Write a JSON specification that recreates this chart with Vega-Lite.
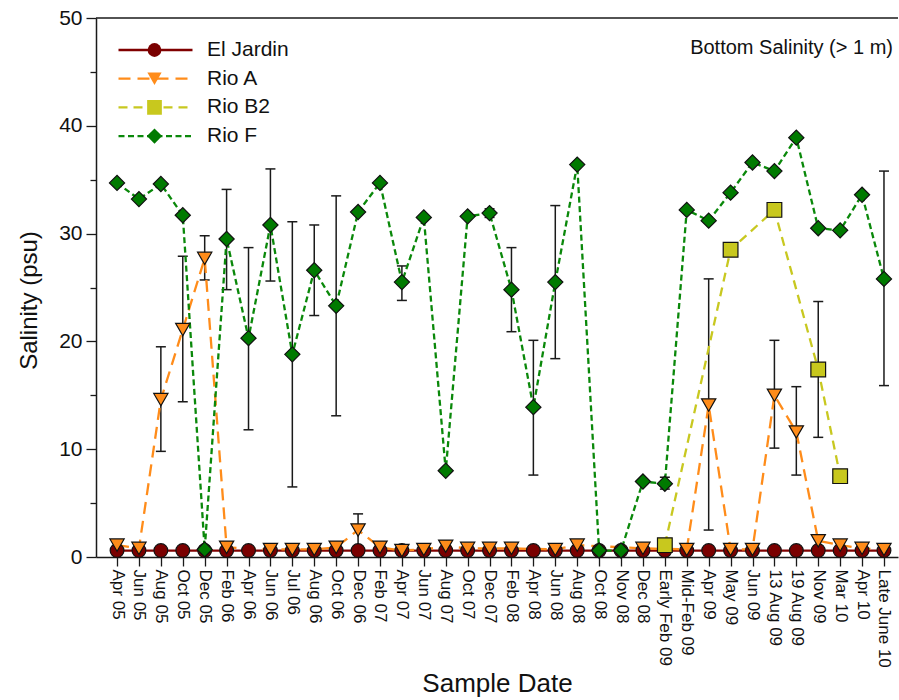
{
  "$schema": "https://vega.github.io/schema/vega-lite/v6.json",
  "width": 802,
  "height": 539,
  "autosize": {"type": "none"},
  "padding": {"left": 96, "top": 18, "right": 1, "bottom": 143},
  "background": "white",
  "config": {
    "view": {"stroke": null},
    "font": "Liberation Sans",
    "axis": {"grid": false, "domainColor": "#1a1a1a", "tickColor": "#1a1a1a", "labelColor": "#111", "titleColor": "#111", "labelFont": "Liberation Sans", "titleFont": "Liberation Sans", "titleFontWeight": "normal", "domainWidth": 1.5, "tickWidth": 1.3},
    "legend": {"labelFont": "Liberation Sans", "labelColor": "#111"}
  },
  "title": {"text": "Bottom Salinity (> 1 m)", "anchor": "end", "orient": "top", "offset": -51, "fontSize": 20, "fontWeight": "normal", "font": "Liberation Sans", "color": "#111", "frame": "group", "dx": -5},
  "resolve": {"axis": {"y": "independent"}},
  "datasets": {
    "obs": [
      {"date": "Apr 05", "site": "El Jardin", "sal": 0.6}, {"date": "Jun 05", "site": "El Jardin", "sal": 0.6}, {"date": "Aug 05", "site": "El Jardin", "sal": 0.6}, {"date": "Oct 05", "site": "El Jardin", "sal": 0.6}, {"date": "Dec 05", "site": "El Jardin", "sal": 0.6}, {"date": "Feb 06", "site": "El Jardin", "sal": 0.6}, {"date": "Apr 06", "site": "El Jardin", "sal": 0.6}, {"date": "Jun 06", "site": "El Jardin", "sal": 0.6}, {"date": "Jul 06", "site": "El Jardin", "sal": 0.6}, {"date": "Aug 06", "site": "El Jardin", "sal": 0.6}, {"date": "Oct 06", "site": "El Jardin", "sal": 0.6}, {"date": "Dec 06", "site": "El Jardin", "sal": 0.6}, {"date": "Feb 07", "site": "El Jardin", "sal": 0.6}, {"date": "Apr 07", "site": "El Jardin", "sal": 0.6}, {"date": "Jun 07", "site": "El Jardin", "sal": 0.6}, {"date": "Aug 07", "site": "El Jardin", "sal": 0.6}, {"date": "Oct 07", "site": "El Jardin", "sal": 0.6}, {"date": "Dec 07", "site": "El Jardin", "sal": 0.6}, {"date": "Feb 08", "site": "El Jardin", "sal": 0.6}, {"date": "Apr 08", "site": "El Jardin", "sal": 0.6}, {"date": "Jun 08", "site": "El Jardin", "sal": 0.6}, {"date": "Aug 08", "site": "El Jardin", "sal": 0.6}, {"date": "Oct 08", "site": "El Jardin", "sal": 0.6}, {"date": "Nov 08", "site": "El Jardin", "sal": 0.6}, {"date": "Dec 08", "site": "El Jardin", "sal": 0.6}, {"date": "Early Feb 09", "site": "El Jardin", "sal": 0.6}, {"date": "Mid-Feb 09", "site": "El Jardin", "sal": 0.6}, {"date": "Apr 09", "site": "El Jardin", "sal": 0.6}, {"date": "May 09", "site": "El Jardin", "sal": 0.6}, {"date": "Jun 09", "site": "El Jardin", "sal": 0.6}, {"date": "13 Aug 09", "site": "El Jardin", "sal": 0.6}, {"date": "19 Aug 09", "site": "El Jardin", "sal": 0.6}, {"date": "Nov 09", "site": "El Jardin", "sal": 0.6}, {"date": "Mar 10", "site": "El Jardin", "sal": 0.6}, {"date": "Apr 10", "site": "El Jardin", "sal": 0.6}, {"date": "Late June 10", "site": "El Jardin", "sal": 0.6},
      {"date": "Apr 05", "site": "Rio A", "sal": 1.1}, {"date": "Jun 05", "site": "Rio A", "sal": 0.8}, {"date": "Aug 05", "site": "Rio A", "sal": 14.6}, {"date": "Oct 05", "site": "Rio A", "sal": 21.1}, {"date": "Dec 05", "site": "Rio A", "sal": 27.7}, {"date": "Feb 06", "site": "Rio A", "sal": 0.9}, {"date": "Jun 06", "site": "Rio A", "sal": 0.7}, {"date": "Jul 06", "site": "Rio A", "sal": 0.7}, {"date": "Aug 06", "site": "Rio A", "sal": 0.7}, {"date": "Oct 06", "site": "Rio A", "sal": 0.9}, {"date": "Dec 06", "site": "Rio A", "sal": 2.5}, {"date": "Feb 07", "site": "Rio A", "sal": 0.9}, {"date": "Apr 07", "site": "Rio A", "sal": 0.6}, {"date": "Jun 07", "site": "Rio A", "sal": 0.7}, {"date": "Aug 07", "site": "Rio A", "sal": 1.0}, {"date": "Oct 07", "site": "Rio A", "sal": 0.8}, {"date": "Dec 07", "site": "Rio A", "sal": 0.8}, {"date": "Feb 08", "site": "Rio A", "sal": 0.8}, {"date": "Jun 08", "site": "Rio A", "sal": 0.7}, {"date": "Aug 08", "site": "Rio A", "sal": 1.1}, {"date": "Dec 08", "site": "Rio A", "sal": 0.8}, {"date": "Mid-Feb 09", "site": "Rio A", "sal": 0.7}, {"date": "Apr 09", "site": "Rio A", "sal": 14.1}, {"date": "May 09", "site": "Rio A", "sal": 0.7}, {"date": "Jun 09", "site": "Rio A", "sal": 0.7}, {"date": "13 Aug 09", "site": "Rio A", "sal": 15.0}, {"date": "19 Aug 09", "site": "Rio A", "sal": 11.6}, {"date": "Nov 09", "site": "Rio A", "sal": 1.5}, {"date": "Mar 10", "site": "Rio A", "sal": 1.1}, {"date": "Apr 10", "site": "Rio A", "sal": 0.8}, {"date": "Late June 10", "site": "Rio A", "sal": 0.7},
      {"date": "Early Feb 09", "site": "Rio B2", "sal": 1.1}, {"date": "May 09", "site": "Rio B2", "sal": 28.5}, {"date": "13 Aug 09", "site": "Rio B2", "sal": 32.2}, {"date": "Nov 09", "site": "Rio B2", "sal": 17.4}, {"date": "Mar 10", "site": "Rio B2", "sal": 7.5},
      {"date": "Apr 05", "site": "Rio F", "sal": 34.7}, {"date": "Jun 05", "site": "Rio F", "sal": 33.2}, {"date": "Aug 05", "site": "Rio F", "sal": 34.6}, {"date": "Oct 05", "site": "Rio F", "sal": 31.7}, {"date": "Dec 05", "site": "Rio F", "sal": 0.7}, {"date": "Feb 06", "site": "Rio F", "sal": 29.5}, {"date": "Apr 06", "site": "Rio F", "sal": 20.3}, {"date": "Jun 06", "site": "Rio F", "sal": 30.8}, {"date": "Jul 06", "site": "Rio F", "sal": 18.8}, {"date": "Aug 06", "site": "Rio F", "sal": 26.6}, {"date": "Oct 06", "site": "Rio F", "sal": 23.3}, {"date": "Dec 06", "site": "Rio F", "sal": 32.0}, {"date": "Feb 07", "site": "Rio F", "sal": 34.7}, {"date": "Apr 07", "site": "Rio F", "sal": 25.5}, {"date": "Jun 07", "site": "Rio F", "sal": 31.5}, {"date": "Aug 07", "site": "Rio F", "sal": 8.0}, {"date": "Oct 07", "site": "Rio F", "sal": 31.6}, {"date": "Dec 07", "site": "Rio F", "sal": 31.9}, {"date": "Feb 08", "site": "Rio F", "sal": 24.8}, {"date": "Apr 08", "site": "Rio F", "sal": 13.9}, {"date": "Jun 08", "site": "Rio F", "sal": 25.5}, {"date": "Aug 08", "site": "Rio F", "sal": 36.4}, {"date": "Oct 08", "site": "Rio F", "sal": 0.6}, {"date": "Nov 08", "site": "Rio F", "sal": 0.6}, {"date": "Dec 08", "site": "Rio F", "sal": 7.0}, {"date": "Early Feb 09", "site": "Rio F", "sal": 6.8}, {"date": "Mid-Feb 09", "site": "Rio F", "sal": 32.2}, {"date": "Apr 09", "site": "Rio F", "sal": 31.2}, {"date": "May 09", "site": "Rio F", "sal": 33.8}, {"date": "Jun 09", "site": "Rio F", "sal": 36.6}, {"date": "13 Aug 09", "site": "Rio F", "sal": 35.8}, {"date": "19 Aug 09", "site": "Rio F", "sal": 38.9}, {"date": "Nov 09", "site": "Rio F", "sal": 30.5}, {"date": "Mar 10", "site": "Rio F", "sal": 30.3}, {"date": "Apr 10", "site": "Rio F", "sal": 33.6}, {"date": "Late June 10", "site": "Rio F", "sal": 25.8}
    ],
    "err": [
      {"date": "Aug 05", "site": "Rio A", "lo": 9.8, "hi": 19.5}, {"date": "Oct 05", "site": "Rio A", "lo": 14.4, "hi": 27.9}, {"date": "Dec 05", "site": "Rio A", "lo": 25.7, "hi": 29.8}, {"date": "Dec 06", "site": "Rio A", "lo": 1.0, "hi": 4.0}, {"date": "Apr 09", "site": "Rio A", "lo": 2.5, "hi": 25.8}, {"date": "13 Aug 09", "site": "Rio A", "lo": 10.1, "hi": 20.1}, {"date": "19 Aug 09", "site": "Rio A", "lo": 7.6, "hi": 15.8},
      {"date": "Nov 09", "site": "Rio B2", "lo": 11.1, "hi": 23.7},
      {"date": "Feb 06", "site": "Rio F", "lo": 24.8, "hi": 34.1}, {"date": "Apr 06", "site": "Rio F", "lo": 11.8, "hi": 28.7}, {"date": "Jun 06", "site": "Rio F", "lo": 25.6, "hi": 36.0}, {"date": "Jul 06", "site": "Rio F", "lo": 6.5, "hi": 31.1}, {"date": "Aug 06", "site": "Rio F", "lo": 22.4, "hi": 30.8}, {"date": "Oct 06", "site": "Rio F", "lo": 13.1, "hi": 33.5}, {"date": "Apr 07", "site": "Rio F", "lo": 23.8, "hi": 27.0}, {"date": "Dec 07", "site": "Rio F", "lo": 31.5, "hi": 32.3}, {"date": "Feb 08", "site": "Rio F", "lo": 20.9, "hi": 28.7}, {"date": "Apr 08", "site": "Rio F", "lo": 7.6, "hi": 20.1}, {"date": "Jun 08", "site": "Rio F", "lo": 18.4, "hi": 32.6}, {"date": "Early Feb 09", "site": "Rio F", "lo": 6.3, "hi": 7.4}, {"date": "Late June 10", "site": "Rio F", "lo": 15.9, "hi": 35.8}
    ]
  },
  "layer": [
    {
      "data": {"values": [{}]},
      "mark": {"type": "rule", "color": "#1a1a1a", "strokeWidth": 1.5},
      "encoding": {"y": {"datum": 50, "type": "quantitative", "axis": null}}
    },
    {
      "data": {"name": "err"},
      "mark": {"type": "rule", "color": "#1a1a1a", "strokeWidth": 1.5},
      "encoding": {
        "x": {"field": "date", "type": "ordinal"},
        "y": {"field": "lo", "type": "quantitative", "axis": {"orient": "left", "values": [5, 15, 25, 35, 45], "labels": false, "domain": false, "title": null, "tickSize": 6}},
        "y2": {"field": "hi"}
      }
    },
    {
      "data": {"name": "err"},
      "mark": {"type": "tick", "color": "#1a1a1a", "size": 10, "thickness": 1.5, "opacity": 1},
      "encoding": {
        "x": {"field": "date", "type": "ordinal"},
        "y": {"field": "lo", "type": "quantitative", "axis": null}
      }
    },
    {
      "data": {"name": "err"},
      "mark": {"type": "tick", "color": "#1a1a1a", "size": 10, "thickness": 1.5, "opacity": 1},
      "encoding": {
        "x": {"field": "date", "type": "ordinal"},
        "y": {"field": "hi", "type": "quantitative", "axis": null}
      }
    },
    {
      "data": {"name": "obs"},
      "mark": {"type": "line", "strokeWidth": 2.3},
      "encoding": {
        "x": {
          "field": "date", "type": "ordinal",
          "scale": {"type": "point", "padding": 0.8, "align": 0.6, "domain": ["Apr 05", "Jun 05", "Aug 05", "Oct 05", "Dec 05", "Feb 06", "Apr 06", "Jun 06", "Jul 06", "Aug 06", "Oct 06", "Dec 06", "Feb 07", "Apr 07", "Jun 07", "Aug 07", "Oct 07", "Dec 07", "Feb 08", "Apr 08", "Jun 08", "Aug 08", "Oct 08", "Nov 08", "Dec 08", "Early Feb 09", "Mid-Feb 09", "Apr 09", "May 09", "Jun 09", "13 Aug 09", "19 Aug 09", "Nov 09", "Mar 10", "Apr 10", "Late June 10"]},
          "axis": {"title": "Sample Date", "titleFontSize": 26, "titleX": 401, "titleY": 126, "titleBaseline": "middle", "labelAngle": 90, "labelAlign": "left", "labelBaseline": "middle", "labelFontSize": 17, "tickSize": 9, "labelPadding": 3, "labelOverlap": false}
        },
        "y": {
          "field": "sal", "type": "quantitative",
          "scale": {"domain": [0, 50], "nice": false},
          "axis": {"orient": "left", "title": "Salinity (psu)", "values": [0, 10, 20, 30, 40, 50], "labelFontSize": 21, "tickSize": 10, "labelPadding": 4, "titleFontSize": 24, "titleX": -67, "titleY": 282, "titleAngle": -90, "titleAlign": "center", "titleBaseline": "middle"}
        },
        "stroke": {
          "field": "site", "type": "nominal",
          "scale": {"domain": ["El Jardin", "Rio A", "Rio B2", "Rio F"], "range": ["#800000", "#FF8C1A", "#C8C820", "#0A880A"]},
          "legend": {"title": null, "orient": "none", "legendX": 21, "legendY": 21.5, "padding": 0, "symbolType": "stroke", "symbolSize": 5476, "symbolStrokeWidth": 2.3, "clipHeight": 21, "labelFontSize": 21, "labelExpr": "''", "rowPadding": 6.7}
        },
        "strokeDash": {
          "field": "site", "type": "nominal",
          "scale": {"domain": ["El Jardin", "Rio A", "Rio B2", "Rio F"], "range": [[1, 0], [12, 7], [9, 6], [6, 3.5]]},
          "legend": {"title": null, "orient": "none", "legendX": 21, "legendY": 21.5, "padding": 0, "symbolType": "stroke", "symbolSize": 5476, "symbolStrokeWidth": 2.3, "clipHeight": 21, "labelFontSize": 21, "labelExpr": "''", "rowPadding": 6.7}
        },
        "order": {"value": null}
      }
    },
    {
      "data": {"name": "obs"},
      "mark": {"type": "point", "filled": true, "stroke": "#111", "strokeWidth": 1.2, "opacity": 1, "fillOpacity": 1},
      "encoding": {
        "x": {"field": "date", "type": "ordinal"},
        "y": {"field": "sal", "type": "quantitative", "axis": null},
        "fill": {
          "field": "site", "type": "nominal",
          "scale": {"range": ["#7A0000", "#FF8C1A", "#C8C81E", "#007A00"]},
          "legend": {"title": null, "orient": "none", "legendX": 48, "legendY": 21.5, "padding": 0, "clipHeight": 21, "labelFontSize": 21, "labelOffset": 42, "rowPadding": 6.7, "symbolStrokeColor": "#111", "symbolStrokeWidth": 1.2, "symbolOpacity": 1}
        },
        "shape": {
          "field": "site", "type": "nominal",
          "scale": {"range": ["circle", "triangle-down", "square", "diamond"]},
          "legend": {"title": null, "orient": "none", "legendX": 48, "legendY": 21.5, "padding": 0, "clipHeight": 21, "labelFontSize": 21, "labelOffset": 42, "rowPadding": 6.7, "symbolStrokeColor": "#111", "symbolStrokeWidth": 1.2, "symbolOpacity": 1}
        },
        "size": {
          "field": "site", "type": "nominal",
          "scale": {"range": [190, 230, 165, 320]},
          "legend": {"title": null, "orient": "none", "legendX": 48, "legendY": 21.5, "padding": 0, "clipHeight": 21, "labelFontSize": 21, "labelOffset": 42, "rowPadding": 6.7, "symbolStrokeColor": "#111", "symbolStrokeWidth": 1.2, "symbolOpacity": 1}
        }
      }
    }
  ]
}
